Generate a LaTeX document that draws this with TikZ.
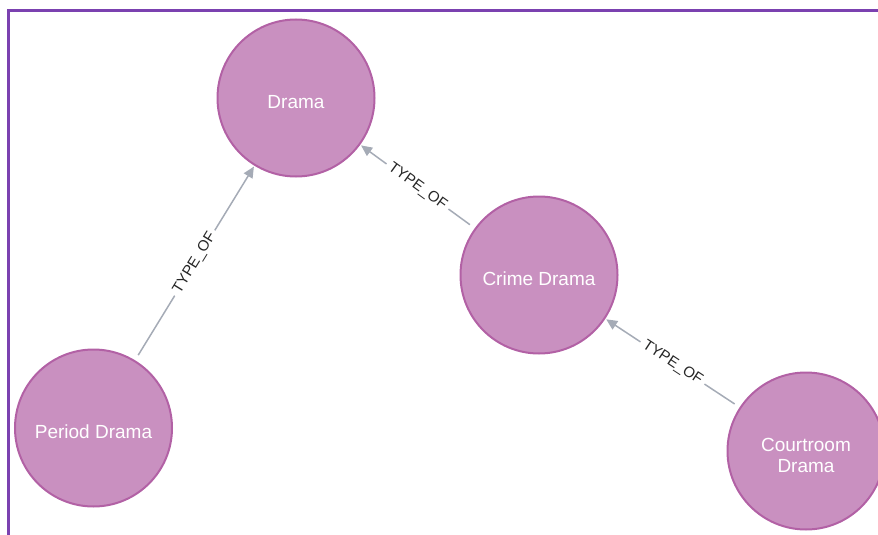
\documentclass[tikz,border=0pt]{standalone}
\usepackage{fontspec}
\setmainfont{Liberation Sans}
\usetikzlibrary{arrows.meta}

\definecolor{nodefill}{HTML}{C990C0}
\definecolor{nodeline}{HTML}{B261A5}
\definecolor{edgeline}{HTML}{A5ABB6}
\definecolor{framecol}{HTML}{7B41B0}

\tikzset{
  genre/.style={circle, fill=nodefill, draw=nodeline, line width=2pt,
    minimum size=157pt, inner sep=0pt, text=white, align=center,
    font=\fontsize{19}{21}\selectfont},
  caption/.style={yshift=-4pt, text=white, align=center,
    font=\fontsize{19}{21}\selectfont},
  rel/.style={draw=edgeline, line width=1.5pt, shorten <=6pt, shorten >=1pt,
    -{Triangle[length=11pt,width=10pt]}},
  rellabel/.style={sloped, midway, fill=white, inner sep=4pt, text=black!85,
    font=\fontsize{15}{17}\selectfont},
  framebar/.style={draw=framecol, line width=2.5pt}
}

\begin{document}
\begin{tikzpicture}[x=1pt, y=-1pt]
  \useasboundingbox (0,0) rectangle (878,535);
  \clip (0,0) rectangle (878,535);

  % outer frame (top and left edges)
  \draw[framebar] (880,10.3) -- (8.3,10.3) -- (8.3,540);

  % genre nodes
  \node[genre] (drama)     at (296,98)  {};
  \node[genre] (crime)     at (539,275) {};
  \node[genre] (period)    at (93.5,428) {};
  \node[genre] (courtroom) at (806,451) {};

  \node[caption] at (drama)     {Drama};
  \node[caption] at (crime)     {Crime Drama};
  \node[caption] at (period)    {Period Drama};
  \node[caption] at (courtroom) {Courtroom\\Drama};

  % TYPE_OF relationships
  \draw[rel] (period)    -- node[rellabel] {TYPE\_OF} (drama);
  \draw[rel] (crime)     -- node[rellabel] {TYPE\_OF} (drama);
  \draw[rel] (courtroom) -- node[rellabel] {TYPE\_OF} (crime);
\end{tikzpicture}
\end{document}
